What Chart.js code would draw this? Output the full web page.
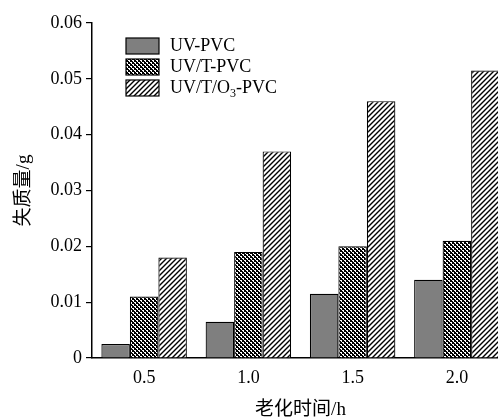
<!DOCTYPE html>
<html>
<head>
<meta charset="utf-8">
<script src="https://cdn.jsdelivr.net/npm/chart.js@4/dist/chart.umd.min.js"></script>
<style>
  html, body { margin: 0; padding: 0; background: #fff; overflow: hidden; }
  #wrap { width: 512px; height: 419px; }
</style>
</head>
<body>
<div id="wrap"><canvas id="lossChart"></canvas></div>
<script>
const agingTimes = ['0.5', '1.0', '1.5', '2.0'];
const uvPvc = [0.0025, 0.0065, 0.0115, 0.014];
const uvTPvc = [0.011, 0.019, 0.020, 0.021];
const uvTO3Pvc = [0.018, 0.037, 0.046, 0.0515];
const seriesNames = ['UV-PVC', 'UV/T-PVC', 'UV/T/O\u2083-PVC'];

const serif = '"Liberation Serif", "Times New Roman", "Noto Sans CJK SC", serif';

function makePattern(size, paint) {
    const c = document.createElement('canvas');
    c.width = size;
    c.height = size;
    const g = c.getContext('2d');
    paint(g, size);
    return g.createPattern(c, 'repeat');
}

const dots = makePattern(4, (g, s) => {
    g.fillStyle = '#000';
    g.fillRect(0, 0, s, s);
    g.fillStyle = '#fff';
    g.fillRect(0, 0, 2, 1);
    g.fillRect(2, 2, 2, 1);
    g.fillRect(1, 1, 1, 1);
    g.fillRect(3, 3, 1, 1);
});

const hatch = makePattern(5, (g, s) => {
    g.fillStyle = '#fff';
    g.fillRect(0, 0, s, s);
    g.strokeStyle = '#000';
    g.lineWidth = 1.4;
    g.beginPath();
    g.moveTo(0, s); g.lineTo(s, 0);
    g.moveTo(-1, 1); g.lineTo(1, -1);
    g.moveTo(s - 1, s + 1); g.lineTo(s + 1, s - 1);
    g.stroke();
});

// legend drawn in the top-left corner of the plot, with O3 subscript
const cornerLegend = {
    id: 'cornerLegend',
    afterDraw(chart, args, opts) {
        const ctx = chart.ctx;
        ctx.save();
        chart.data.datasets.forEach((ds, i) => {
            const y = opts.y + i * opts.step;
            ctx.fillStyle = ds.backgroundColor;
            ctx.fillRect(opts.x, y, opts.boxW, opts.boxH);
            ctx.strokeStyle = '#000';
            ctx.lineWidth = 1.2;
            ctx.strokeRect(opts.x, y, opts.boxW, opts.boxH);

            ctx.fillStyle = '#000';
            ctx.textBaseline = 'middle';
            ctx.textAlign = 'left';
            let tx = opts.textX;
            const ty = y + opts.boxH / 2;
            const parts = ds.label.split('\u2083');
            parts.forEach((p, k) => {
                ctx.font = '18px ' + serif;
                ctx.fillText(p, tx, ty);
                tx += ctx.measureText(p).width;
                if (k < parts.length - 1) {
                    ctx.font = '12px ' + serif;
                    ctx.fillText('3', tx, ty + 6);
                    tx += ctx.measureText('3').width;
                }
            });
        });
        ctx.restore();
    }
};

const barBase = {
    borderColor: '#000',
    borderWidth: 1.2,
    barPercentage: 1,
    categoryPercentage: 0.82
};

new Chart(document.getElementById('lossChart'), {
    type: 'bar',
    data: {
        labels: agingTimes,
        datasets: [
            { ...barBase, label: seriesNames[0], data: uvPvc, backgroundColor: '#7f7f7f' },
            { ...barBase, label: seriesNames[1], data: uvTPvc, backgroundColor: dots },
            { ...barBase, label: seriesNames[2], data: uvTO3Pvc, backgroundColor: hatch }
        ]
    },
    options: {
        responsive: true,
        maintainAspectRatio: false,
        animation: false,
        devicePixelRatio: 1,
        layout: { padding: { top: 23, right: 3, bottom: 0, left: 0 } },
        plugins: {
            legend: { display: false },
            tooltip: { enabled: false },
            cornerLegend: { x: 126, y: 38, boxW: 33, boxH: 16, step: 21, textX: 170 }
        },
        scales: {
            x: {
                grid: { display: false },
                border: { color: '#000', width: 1.5 },
                ticks: { color: '#000', font: { family: serif, size: 18 }, padding: 1 },
                title: {
                    display: true,
                    text: '老化时间/h',
                    color: '#000',
                    font: { family: serif, size: 19, lineHeight: 1 },
                    padding: { top: 0, bottom: -1 }
                },
                afterFit(scale) { scale.height = 61; }
            },
            y: {
                min: 0,
                max: 0.06,
                grid: { drawOnChartArea: false, drawTicks: true, tickLength: 6, color: '#000', lineWidth: 1.2 },
                border: { color: '#000', width: 1.5 },
                ticks: {
                    stepSize: 0.01,
                    color: '#000',
                    padding: 4,
                    font: { family: serif, size: 18 },
                    callback: v => v === 0 ? '0' : v.toFixed(2)
                },
                title: {
                    display: true,
                    text: '失质量/g',
                    color: '#000',
                    font: { family: serif, size: 19 },
                    padding: { top: 13, bottom: 0 }
                },
                afterFit(scale) { scale.width = 92; }
            }
        }
    },
    plugins: [cornerLegend]
});
</script>
</body>
</html>
